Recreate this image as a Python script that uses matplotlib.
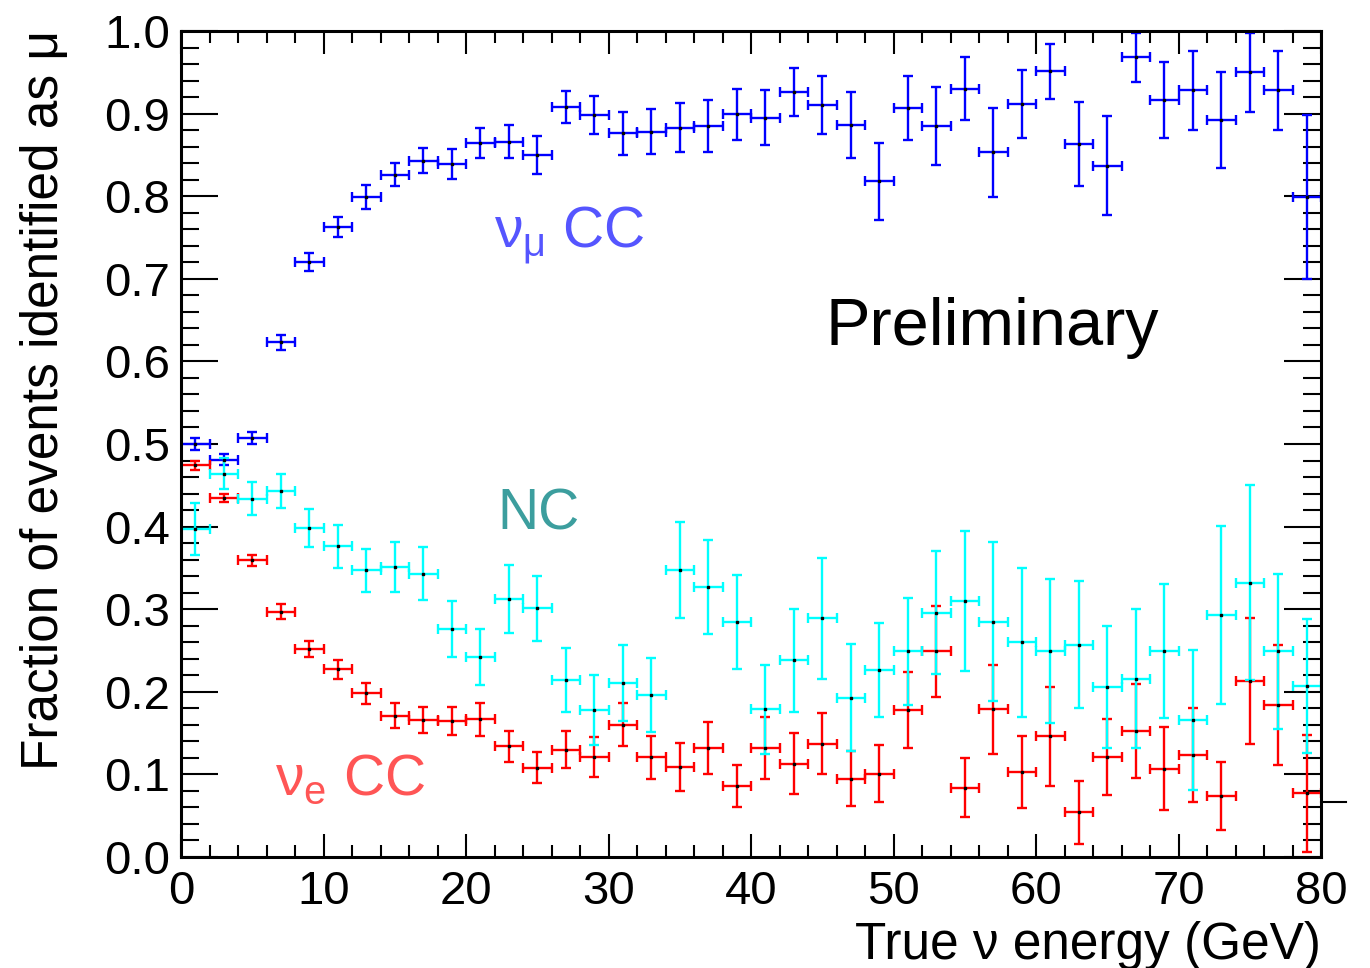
import matplotlib
matplotlib.use('Agg')
import matplotlib.pyplot as plt
from matplotlib.lines import Line2D
from matplotlib.ticker import MultipleLocator

plt.rcParams['font.family'] = ['Liberation Sans', 'DejaVu Sans']
plt.rcParams['mathtext.fontset'] = 'custom'
plt.rcParams['mathtext.rm'] = 'Liberation Sans'
plt.rcParams['mathtext.it'] = 'Liberation Sans'

# bin centres (GeV), each bin is 2 GeV wide
energy = [1, 3, 5, 7, 9, 11, 13, 15, 17, 19,
          21, 23, 25, 27, 29, 31, 33, 35, 37, 39,
          41, 43, 45, 47, 49, 51, 53, 55, 57, 59,
          61, 63, 65, 67, 69, 71, 73, 75, 77, 79]
bin_half = 1.0

# numu CC
numu_frac = [0.500, 0.481, 0.507, 0.623, 0.720, 0.763, 0.799, 0.826, 0.843, 0.839,
             0.864, 0.866, 0.850, 0.908, 0.898, 0.876, 0.878, 0.883, 0.885, 0.899,
             0.895, 0.926, 0.910, 0.886, 0.818, 0.907, 0.885, 0.930, 0.853, 0.912,
             0.951, 0.863, 0.837, 0.968, 0.916, 0.928, 0.892, 0.950, 0.928, 0.799]
numu_err = [0.007, 0.007, 0.007, 0.009, 0.011, 0.012, 0.014, 0.014, 0.015, 0.018,
            0.018, 0.020, 0.023, 0.019, 0.023, 0.026, 0.027, 0.030, 0.031, 0.031,
            0.033, 0.029, 0.035, 0.040, 0.047, 0.039, 0.047, 0.038, 0.054, 0.041,
            0.033, 0.051, 0.060, 0.030, 0.046, 0.048, 0.058, 0.048, 0.048, 0.099]

# NC
nc_frac = [0.397, 0.464, 0.434, 0.443, 0.398, 0.376, 0.347, 0.351, 0.343, 0.276,
           0.242, 0.312, 0.301, 0.214, 0.178, 0.211, 0.196, 0.347, 0.327, 0.285,
           0.179, 0.238, 0.289, 0.193, 0.226, 0.249, 0.296, 0.310, 0.285, 0.260,
           0.249, 0.257, 0.206, 0.216, 0.249, 0.166, 0.293, 0.332, 0.249, 0.207]
nc_err = [0.031, 0.019, 0.020, 0.021, 0.023, 0.026, 0.026, 0.030, 0.032, 0.034,
          0.034, 0.041, 0.039, 0.039, 0.042, 0.046, 0.045, 0.058, 0.057, 0.057,
          0.054, 0.062, 0.073, 0.065, 0.057, 0.065, 0.074, 0.085, 0.096, 0.090,
          0.087, 0.077, 0.074, 0.084, 0.081, 0.085, 0.108, 0.118, 0.094, 0.081]

# nue CC
nue_frac = [0.474, 0.435, 0.359, 0.297, 0.252, 0.227, 0.198, 0.171, 0.166, 0.165,
            0.167, 0.134, 0.108, 0.130, 0.121, 0.160, 0.121, 0.109, 0.132, 0.086,
            0.132, 0.113, 0.137, 0.095, 0.101, 0.178, 0.249, 0.084, 0.179, 0.103,
            0.146, 0.054, 0.121, 0.153, 0.107, 0.123, 0.074, 0.213, 0.184, 0.077]
nue_err = [0.006, 0.005, 0.007, 0.009, 0.010, 0.012, 0.013, 0.015, 0.016, 0.017,
           0.020, 0.019, 0.019, 0.022, 0.024, 0.026, 0.026, 0.029, 0.031, 0.025,
           0.037, 0.037, 0.037, 0.033, 0.034, 0.046, 0.055, 0.036, 0.054, 0.044,
           0.060, 0.038, 0.046, 0.057, 0.050, 0.057, 0.041, 0.076, 0.073, 0.071]

fig = plt.figure(figsize=(13.7, 9.68), dpi=100)
ax = fig.add_axes([181 / 1370, 1 - 857 / 968, 1140 / 1370, 826 / 968])

series = [
    (numu_frac, numu_err, '#0000ff'),
    (nue_frac, nue_err, '#ff0000'),
    (nc_frac, nc_err, '#00ffff'),
]
for frac, err, col in series:
    ax.errorbar(energy, frac, yerr=err, xerr=bin_half, fmt='s', color=col,
                ecolor=col, elinewidth=1.7, capsize=3.6, capthick=1.7,
                markersize=2.0, markerfacecolor='black', markeredgecolor='black',
                clip_on=True)

ax.set_xlim(0, 80)
ax.set_ylim(0, 1.0)
ax.xaxis.set_major_locator(MultipleLocator(10))
ax.xaxis.set_minor_locator(MultipleLocator(2))
ax.yaxis.set_major_locator(MultipleLocator(0.1))
ax.yaxis.set_minor_locator(MultipleLocator(0.02))
ax.yaxis.set_major_formatter(plt.FuncFormatter(lambda v, p: f'{v:.1f}'))

ax.tick_params(which='both', direction='in', top=True, right=True,
               width=1.5, labelsize=34, color='black')
ax.tick_params(axis='y', which='major', length=26.5, pad=8)
ax.tick_params(axis='y', which='minor', length=13)
ax.tick_params(axis='x', which='major', length=16.5, pad=9)
ax.tick_params(axis='x', which='minor', length=8.5)
for sp in ax.spines.values():
    sp.set_linewidth(2.2)

# labels
fig.text(45 / 1370, 1 - 30 / 968, 'Fraction of events identified as μ',
         rotation=90, ha='center', va='top', fontsize=37)
fig.text(1321 / 1370, 1 - 945 / 968, 'True ν energy (GeV)',
         ha='right', va='center', fontsize=37)

# annotations
ax.text(22.0, 0.738, r'$\nu_{\mu}$ CC', color='#5555ff', fontsize=41,
        ha='left', va='baseline')
ax.text(22.2, 0.396, 'NC', color='#3c9e9e', fontsize=41,
        ha='left', va='baseline')
ax.text(6.6, 0.075, r'$\nu_{e}$ CC', color='#ff5555', fontsize=41,
        ha='left', va='baseline')
ax.text(45.2, 0.620, 'Preliminary', color='black', fontsize=48,
        ha='left', va='baseline')

# small stub on the right edge seen in the original
fig.add_artist(Line2D([1321 / 1370, 1346 / 1370], [1 - 802 / 968, 1 - 802 / 968],
                      color='black', linewidth=1.5))

fig.savefig('out.png', dpi=100)
